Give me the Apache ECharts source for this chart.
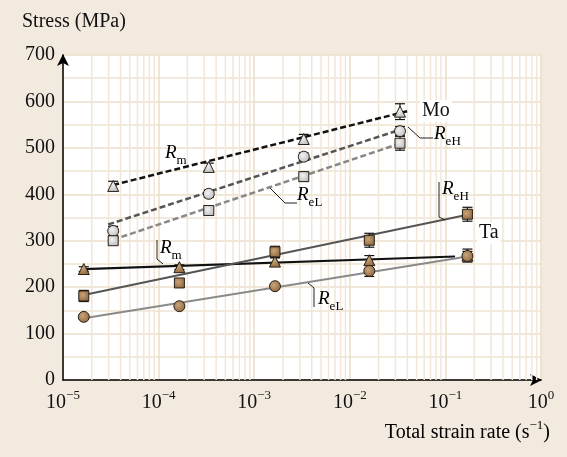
<!DOCTYPE html>
<html>
<head>
<meta charset="utf-8">
<script src="https://cdn.jsdelivr.net/npm/echarts@6/dist/echarts.min.js"></script>
<style>
html,body{margin:0;padding:0;background:#f3eadf;}
#main{width:567px;height:457px;}
</style>
</head>
<body>
<div id="main"></div>
<script>
var SERIF = 'Liberation Serif';

// tick labels
var xTickExp = [-5, -4, -3, -2, -1, 0];
var yTicks = [0, 100, 200, 300, 400, 500, 600, 700];
// minor vertical grid lines (2..9 per decade)
var minorX = [];
xTickExp.slice(0, 5).forEach(function (e) {
  [2, 3, 4, 5, 6, 7, 8, 9].forEach(function (m) { minorX.push(m * Math.pow(10, e)); });
});

// Ta
var taRate = [1.65e-5, 1.65e-4, 1.65e-3, 1.6e-2, 1.7e-1];
var taRm  = [239, 243, 255, 258, 268];
var taReH = [181, 209, 276, 301, 357];
var taReL = [136, 159, 202, 235, 267];
var taRmErr  = [5, 5, 8, 10, 14];
var taReHErr = [12, 8, 12, 15, 15];
var taReLErr = [5, 5, 5, 12, 10];
// Mo
var moRate = [3.35e-5, 3.35e-4, 3.3e-3, 3.35e-2];
var moRm  = [418, 459, 519, 578];
var moReH = [321, 401, 481, 536];
var moReL = [300, 365, 438, 510];
var moRmErr  = [10, 8, 10, 17];
var moReHErr = [10, 8, 8, 10];
var moReLErr = [8, 10, 10, 15];

// fitted lines (end points)
var taRmFit  = [[1.65e-5, 239], [1.26e-1, 266]];
var taReHFit = [[1.65e-5, 183], [1.7e-1, 356]];
var taReLFit = [[1.65e-5, 133], [1.7e-1, 266]];
var moRmFit  = [[3.35e-5, 420], [4.0e-2, 579]];
var moReHFit = [[2.97e-5, 335], [3.6e-2, 541]];
var moReLFit = [[3.33e-5, 302], [3.2e-2, 508]];

function zip(xs, ys) { return xs.map(function (x, i) { return [x, ys[i]]; }); }
function zipErr(xs, ys, es) { return xs.map(function (x, i) { return [x, ys[i], es[i]]; }); }

var chart = echarts.init(document.getElementById('main'));

function errRender(params, api) {
  var x = api.value(0), y = api.value(1), e = api.value(2);
  var t = api.coord([x, y + e]), b = api.coord([x, y - e]);
  var w = 5, st = { stroke: '#111', lineWidth: 1.2 };
  return {
    type: 'group',
    children: [
      { type: 'line', shape: { x1: t[0], y1: t[1], x2: b[0], y2: b[1] }, style: st },
      { type: 'line', shape: { x1: t[0] - w, y1: t[1], x2: t[0] + w, y2: t[1] }, style: st },
      { type: 'line', shape: { x1: b[0] - w, y1: b[1], x2: b[0] + w, y2: b[1] }, style: st }
    ]
  };
}
// minor vertical grid line through the whole y range
function minorRender(params, api) {
  var v = api.value(0);
  var t = api.coord([v, 700]), b = api.coord([v, 0]);
  return { type: 'line', shape: { x1: t[0], y1: t[1], x2: b[0], y2: b[1] },
    style: { stroke: '#f2e6d7', lineWidth: 1.5 } };
}

function fitLine(data, color, dashed, width) {
  return {
    type: 'line', data: data, symbol: 'none', silent: true, z: 3,
    lineStyle: { color: color, width: width, type: dashed ? [6, 3] : 'solid' }
  };
}
function errSeries(data) {
  return { type: 'custom', data: data, renderItem: errRender, z: 4, silent: true };
}
var taFill = new echarts.graphic.RadialGradient(0.4, 0.4, 0.7, [
  { offset: 0, color: '#c9a57a' }, { offset: 1, color: '#8a6236' }]);
var moFill = new echarts.graphic.RadialGradient(0.4, 0.4, 0.7, [
  { offset: 0, color: '#f2f2f2' }, { offset: 1, color: '#b8b8b8' }]);
function pts(data, sym, size, fill) {
  return {
    type: 'scatter', data: data, symbol: sym, symbolSize: size, z: 5, silent: true,
    itemStyle: { color: fill, borderColor: '#2a2017', borderWidth: 1, opacity: 1 }
  };
}

var rich = {
  r: { fontFamily: SERIF, fontStyle: 'italic', fontSize: 19, color: '#111', lineHeight: 24, verticalAlign: 'top' },
  s: { fontFamily: SERIF, fontSize: 13, color: '#111', lineHeight: 13, verticalAlign: 'bottom' }
};
function rLabel(x, y, sub) {
  return {
    type: 'text', left: x, top: y, z: 20,
    style: { text: '{r|R}{s|' + sub + '}', rich: rich }
  };
}
function leader(points) {
  return { type: 'polyline', shape: { points: points }, style: { stroke: '#222', lineWidth: 1, fill: null }, z: 20 };
}
function plainText(x, y, txt) {
  return {
    type: 'text', left: x, top: y, z: 20,
    style: { text: txt, fontFamily: SERIF, fontSize: 20, fill: '#111', backgroundColor: '#fff', padding: [1, 2] }
  };
}

var option = {
  backgroundColor: '#f3eadf',
  animation: false,
  grid: { left: 63, right: 26, top: 55, bottom: 77, show: true, backgroundColor: '#fff', borderWidth: 0 },
  xAxis: {
    type: 'log', logBase: 10, min: 1e-5, max: 1,
    axisLine: { lineStyle: { color: '#000', width: 1.5 }, symbol: ['none', 'arrow'], symbolSize: [9, 12], symbolOffset: [0, 1] },
    axisTick: { show: false },
    splitLine: { show: true, lineStyle: { color: '#ecdcc8', width: 1.5 } },
    axisLabel: {
      margin: 9, color: '#111',
      formatter: function (v) {
        var e = Math.round(Math.log10(v));
        return '{b|10}{p|' + (e < 0 ? '\u2212' + (-e) : e) + '}';
      },
      rich: {
        b: { fontFamily: SERIF, fontSize: 20, color: '#111', lineHeight: 24, verticalAlign: 'bottom' },
        p: { fontFamily: SERIF, fontSize: 13, color: '#111', lineHeight: 13, verticalAlign: 'top' }
      }
    }
  },
  yAxis: {
    type: 'value', min: 0, max: 700, interval: 100,
    axisLine: { show: true, lineStyle: { color: '#000', width: 1.5 }, symbol: ['none', 'arrow'], symbolSize: [9, 12], symbolOffset: [0, 1] },
    axisTick: { show: false },
    splitLine: { show: true, lineStyle: { color: '#eddfcc', width: 1.5 } },
    minorTick: { show: false, splitNumber: 2 },
    minorSplitLine: { show: true, lineStyle: { color: '#f0e4d4', width: 1.5 } },
    axisLabel: { margin: 8, color: '#111', fontFamily: SERIF, fontSize: 20 }
  },
  graphic: [
    { type: 'text', left: 22, top: 12, style: { text: 'Stress (MPa)', fontFamily: SERIF, fontSize: 20, fill: '#111' } },
    { type: 'text', right: 17, top: 419, style: {
      text: '{t|Total strain rate (s}{p|\u22121}{t|)}',
      rich: {
        t: { fontFamily: SERIF, fontSize: 20, color: '#111', lineHeight: 24, verticalAlign: 'bottom' },
        p: { fontFamily: SERIF, fontSize: 13, color: '#111', lineHeight: 13, verticalAlign: 'top' }
      } } },
    plainText(420, 100, 'Mo'),
    plainText(477, 222, 'Ta'),
    rLabel(165, 143, 'm'),
    leader([[408, 127], [420, 138], [433, 138]]),
    rLabel(434, 124, 'eH'),
    leader([[270, 188], [285, 203], [297, 203]]),
    rLabel(297, 185, 'eL'),
    leader([[157, 240], [157, 259], [163, 264]]),
    rLabel(160, 238, 'm'),
    leader([[439, 182], [439, 217], [445, 220]]),
    rLabel(442, 179, 'eH'),
    leader([[308, 283], [314, 288], [314, 307]]),
    rLabel(318, 289, 'eL')
  ],
  series: [
    {
      type: 'custom', data: minorX.map(function (v) { return [v]; }),
      renderItem: minorRender, silent: true, z: 1
    },
    fitLine(moRmFit, '#111', true, 2.5),
    fitLine(moReHFit, '#555', true, 2.5),
    fitLine(moReLFit, '#888', true, 2.5),
    fitLine(taRmFit, '#111', false, 2.2),
    fitLine(taReHFit, '#555', false, 2),
    fitLine(taReLFit, '#8a8a8a', false, 2),
    errSeries(zipErr(moRate, moRm, moRmErr)),
    errSeries(zipErr(moRate, moReH, moReHErr)),
    errSeries(zipErr(moRate, moReL, moReLErr)),
    errSeries(zipErr(taRate, taRm, taRmErr)),
    errSeries(zipErr(taRate, taReH, taReHErr)),
    errSeries(zipErr(taRate, taReL, taReLErr)),
    pts(zip(moRate, moRm), 'triangle', 11, moFill),
    pts(zip(moRate, moReH), 'circle', 11, moFill),
    pts(zip(moRate, moReL), 'rect', 10, moFill),
    pts(zip(taRate, taRm), 'triangle', 11, taFill),
    pts(zip(taRate, taReH), 'rect', 10, taFill),
    pts(zip(taRate, taReL), 'circle', 11, taFill)
  ]
};
chart.setOption(option);
</script>
</body>
</html>
